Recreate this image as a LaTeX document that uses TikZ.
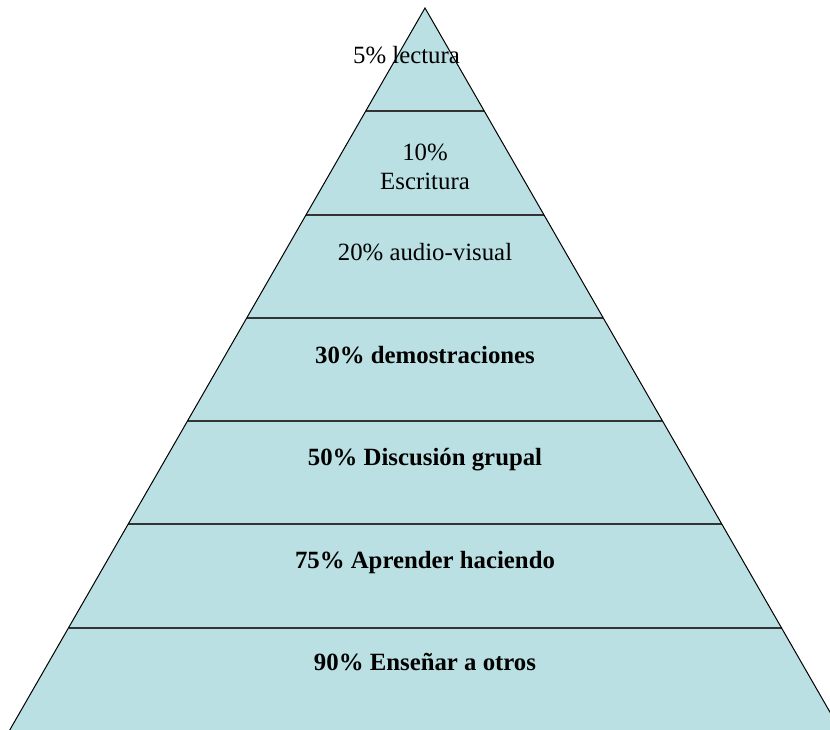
\documentclass[tikz,border=0pt]{standalone}
\usepackage{fontspec}
\setmainfont{Liberation Serif}
\definecolor{pyrfill}{RGB}{186,224,227}
\begin{document}
\begin{tikzpicture}[x=1pt,y=-1pt,
  lbl/.style={anchor=base,inner sep=0pt,font=\fontsize{24.8}{30}\selectfont},
  blbl/.style={anchor=base,inner sep=0pt,font=\fontsize{24.8}{30}\selectfont\bfseries},
  band/.style={line width=1.3pt,draw=black!80},
  edge/.style={line width=1pt,draw=black}]
\useasboundingbox (0,0) rectangle (830,729);
\begin{scope}
  \clip (0,0) rectangle (830,729);
  \coordinate (apex) at (425,8);
  \coordinate (bl) at (4,740);
  \coordinate (br) at (846,740);
  \fill[pyrfill] (apex) -- (bl) -- (br) -- cycle;
  \foreach \i/\y in {1/111,2/215,3/318,4/421,5/524,6/628}{
    \pgfmathsetmacro{\hw}{0.575*(\y-8)}
    \coordinate (l\i) at ({425-\hw},\y);
    \coordinate (r\i) at ({425+\hw},\y);
    \draw[band] (l\i) -- (r\i);
  }
  \draw[edge] (bl) -- (apex) -- (br);
\end{scope}
\node[lbl]  (t1)  at (406.5,63) {5\% lectura};
\node[lbl]  (t2a) at (425,160) {10\%};
\node[lbl]  (t2b) at (425,189) {Escritura};
\node[lbl]  (t3)  at (425,260) {20\% audio-visual};
\node[blbl] (t4)  at (425,363) {30\% demostraciones};
\node[blbl] (t5)  at (425,465) {50\% Discusión grupal};
\node[blbl] (t6)  at (425,568) {75\% Aprender haciendo};
\node[blbl] (t7)  at (425,670) {90\% Enseñar a otros};
\end{tikzpicture}
\end{document}
